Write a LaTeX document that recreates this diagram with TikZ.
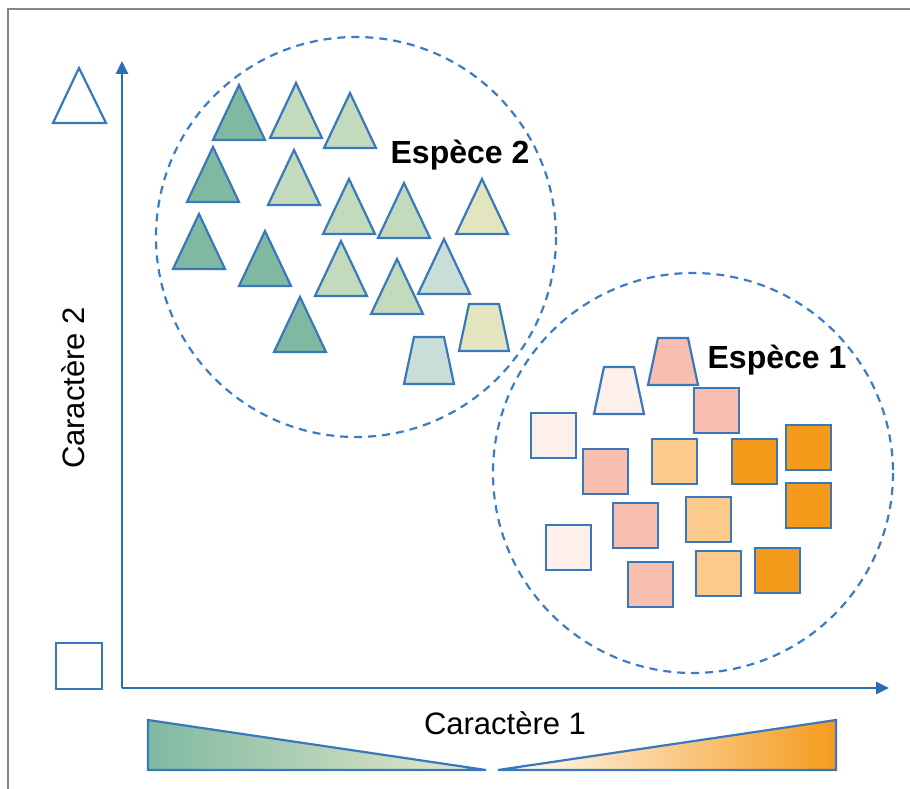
\documentclass[tikz,border=0pt]{standalone}
\usepackage{fontspec}
\setmainfont{Liberation Sans}
\usetikzlibrary{arrows.meta}
\definecolor{axblue}{HTML}{2E6DB4}
\definecolor{shblue}{HTML}{3A78BD}
\definecolor{dashblue}{HTML}{3B7DC4}
\definecolor{dgreen}{HTML}{80B9A2}
\definecolor{lgreen}{HTML}{C3DABD}
\definecolor{yel}{HTML}{E3E5BE}
\definecolor{bgray}{HTML}{C9DED6}
\definecolor{pink}{HTML}{F8BFB0}
\definecolor{pale}{HTML}{FDEFEA}
\definecolor{lorange}{HTML}{FCCB8C}
\definecolor{orng}{HTML}{F59B1C}
\definecolor{framegray}{HTML}{858585}
\tikzset{
  shp/.style={draw=shblue, line width=2.2pt, line join=miter},
  axisline/.style={draw=axblue, line width=2.8pt, -{Triangle[length=13pt,width=12pt]}},
  cluster/.style={draw=dashblue, line width=2.2pt, dash pattern=on 8pt off 6pt},
  lbl/.style={font=\fontsize{31}{36}\selectfont, inner sep=0pt},
  sp/.style={font=\fontsize{32}{38}\selectfont\bfseries, inner sep=0pt}
}
\newcommand\tri[3]{\filldraw[shp, fill=#3] ({#1-26},{#2+55}) -- (#1,#2) -- ({#1+26},{#2+55}) -- cycle;}
\newcommand\sqr[3]{\filldraw[shp, fill=#3] (#1,#2) rectangle ({#1+45},{#2+45});}
\newcommand\trap[3]{\filldraw[shp, fill=#3] ({#1-15},#2) -- ({#1+15},#2) -- ({#1+25},{#2+47}) -- ({#1-25},{#2+47}) -- cycle;}
\begin{document}
\begin{tikzpicture}[x=1pt,y=-1pt]
\useasboundingbox (0,0) rectangle (910,789);
% frame
\draw[framegray, line width=2.5pt] (8,789) -- (8,9) -- (910,9);
% clusters
\draw[cluster] (356,237) circle (200);
\draw[cluster] (693,473) circle (200);
% axes
\coordinate (O) at (122,688);
\coordinate (ytip) at (122,61);
\coordinate (xtip) at (889,688);
\draw[axisline] (O) -- (ytip);
\draw[axisline] (O) -- (xtip);
% legend icons
\filldraw[shp, fill=white] (53,123) -- (79,68) -- (106,123) -- cycle;
\filldraw[shp, fill=white] (56,643) rectangle (102,689);
% labels
\node[lbl, rotate=90] (c2) at (73,388) {Caractère 2};
\node[lbl] (c1) at (505,723) {Caractère 1};
\node[sp] (e2) at (460,155) {Espèce 2};
\node[sp] (e1) at (777,360) {Espèce 1};
% species 2 triangles
\tri{239}{85}{dgreen}
\tri{296}{83}{lgreen}
\tri{350}{93}{lgreen}
\tri{213}{147}{dgreen}
\tri{294}{150}{lgreen}
\tri{349}{179}{lgreen}
\tri{404}{183}{lgreen}
\tri{482}{179}{yel}
\tri{199}{214}{dgreen}
\tri{265}{231}{dgreen}
\tri{341}{241}{lgreen}
\tri{444}{239}{bgray}
\tri{397}{259}{lgreen}
\tri{300}{297}{dgreen}
\trap{484}{304}{yel}
\trap{429}{337}{bgray}
% species 1
\trap{673}{338}{pink}
\trap{619}{367}{pale}
\sqr{694}{388}{pink}
\sqr{531}{413}{pale}
\sqr{583}{449}{pink}
\sqr{652}{439}{lorange}
\sqr{732}{439}{orng}
\sqr{786}{425}{orng}
\sqr{786}{483}{orng}
\sqr{613}{503}{pink}
\sqr{686}{497}{lorange}
\sqr{546}{525}{pale}
\sqr{628}{562}{pink}
\sqr{696}{551}{lorange}
\sqr{755}{548}{orng}
% gradient bars
\shade[left color=dgreen, right color=yel!80] (148,720) -- (486,770) -- (148,770) -- cycle;
\draw[shp] (148,720) -- (486,770) -- (148,770) -- cycle;
\shade[left color=white, right color=orng] (498,770) -- (836,720) -- (836,770) -- cycle;
\draw[shp] (498,770) -- (836,720) -- (836,770) -- cycle;
\end{tikzpicture}
\end{document}
